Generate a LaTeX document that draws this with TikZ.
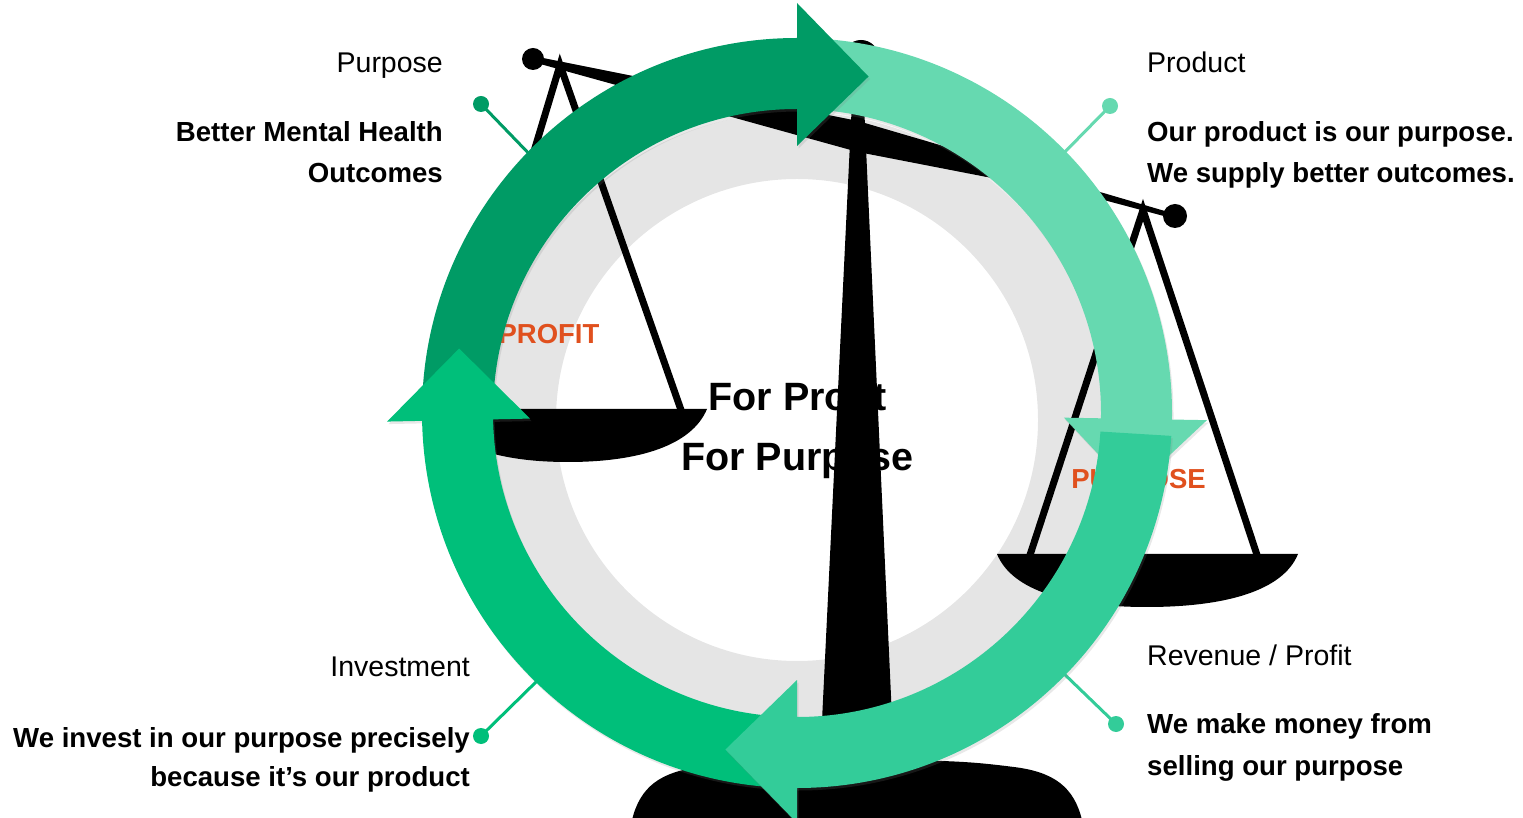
\documentclass[tikz,border=0pt]{standalone}
\usepackage{fontspec}
\setmainfont{Liberation Sans}
\usetikzlibrary{shadows}
\definecolor{cTop}{HTML}{009B65}
\definecolor{cRight}{HTML}{66D9B0}
\definecolor{cBR}{HTML}{33CC99}
\definecolor{cLeft}{HTML}{00BF7A}
\definecolor{ringgray}{HTML}{E5E5E5}
\definecolor{tagorange}{HTML}{E0501E}
\tikzset{
  lbl/.style={font=\fontsize{28.5}{34}\selectfont, inner sep=0pt},
  lblb/.style={font=\fontsize{27.6}{34}\selectfont\bfseries, inner sep=0pt},
  ctext/.style={font=\fontsize{39.5}{46}\selectfont\bfseries, inner sep=0pt, anchor=base},
  tagtext/.style={font=\fontsize{27.5}{32}\selectfont\bfseries, text=tagorange, inner sep=0pt, anchor=base},
  dotc/.style={circle, inner sep=0pt, minimum size=16pt},
  leader/.style={line width=3pt},
  pstring/.style={line width=7pt, line join=miter},
  arrowshadow/.style={drop shadow={opacity=0.18, shadow xshift=1.5pt, shadow yshift=-2.5pt}},
}
\newcommand\ringarrow[3]{%
  \fill[#1, arrowshadow] ([shift={(#2:375)}]ctr) arc[start angle=#2, end angle=#3, radius=375]
    -- ([shift={(#3:410)}]ctr) -- ([shift={(#3-12:344)}]ctr) -- ([shift={(#3:267)}]ctr)
    -- ([shift={(#3:304)}]ctr) arc[start angle=#3, end angle=#2, radius=304] -- cycle;}
\begin{document}
\begin{tikzpicture}[x=1pt, y=1pt]
\useasboundingbox (0,0) rectangle (1523,817);
\coordinate (ctr) at (797,404);
\coordinate (gctr) at (797,397);
% gray ring
\fill[ringgray, even odd rule] (gctr) circle[radius=308] (gctr) circle[radius=241];
% center texts
\node[ctext] (fprofit) at (797.5,406) {For Profit};
\node[ctext] (fpurpose) at (797.5,346) {For Purpose};
\node[tagtext] (tprofit) at (549,473) {PROFIT};
\node[tagtext] (tpurpose) at (1138.5,328) {PURPOSE};
% scale: left pan
\coordinate (lapex) at (560,752);
\coordinate (ls1) at (456,407);
\coordinate (ls2) at (681,407);
\draw[pstring] (ls1) -- (lapex) -- (ls2);
\fill (430,408) -- (707,408) .. controls (692,372) and (640,355) .. (568,355)
  .. controls (496,355) and (446,372) .. (430,408) -- cycle;
% right pan
\coordinate (rapex) at (1143,607);
\coordinate (rs1) at (1030,262);
\coordinate (rs2) at (1257,262);
\draw[pstring] (rs1) -- (rapex) -- (rs2);
\fill (997,263) -- (1298,263) .. controls (1283,226) and (1225,210) .. (1147,210)
  .. controls (1069,210) and (1012,226) .. (997,263) -- cycle;
% beam
\fill (533,761) -- (858,696) -- (1175,603) -- (1175,598) -- (1100,618) -- (858,665) -- (533,755) -- cycle;
\fill (533,758) circle[radius=11];
\fill (1175,601) circle[radius=12];
\fill (861,759) circle[radius=18];
% pole
\fill (854,757) -- (862,757) -- (894,55) -- (820,55) -- cycle;
% base
\fill (632,-3) .. controls (640,30) and (660,45) .. (700,50) .. controls (740,55) and (760,57) .. (857,57)
  .. controls (954,57) and (974,55) .. (1014,50) .. controls (1054,45) and (1074,30) .. (1082,-3) -- cycle;
% leaders
\node[dotc, fill=cTop] (dPurpose) at (481,713) {};
\coordinate (ePurpose) at (537,655);
\draw[leader, cTop] (dPurpose.center) -- (ePurpose);
\node[dotc, fill=cRight] (dProduct) at (1110,711) {};
\coordinate (eProduct) at (1058,658);
\draw[leader, cRight] (dProduct.center) -- (eProduct);
\node[dotc, fill=cBR] (dRevenue) at (1116,93) {};
\coordinate (eRevenue) at (1058,149);
\draw[leader, cBR] (dRevenue.center) -- (eRevenue);
\node[dotc, fill=cLeft] (dInvest) at (481,81) {};
\coordinate (eInvest) at (538,137);
\draw[leader, cLeft] (dInvest.center) -- (eInvest);
% cycle arrows
\ringarrow{cRight}{89.5}{-1}
\ringarrow{cTop}{180}{90}
\ringarrow{cLeft}{270}{181.2}
\ringarrow{cBR}{-3.5}{-90}
% labels
\node[lbl, anchor=base east] (tPurpose) at (443,744) {Purpose};
\node[lblb, anchor=base east] (tPurpose1) at (443,675) {Better Mental Health};
\node[lblb, anchor=base east] (tPurpose2) at (443,634) {Outcomes};
\node[lbl, anchor=base west] (tProduct) at (1147,744) {Product};
\node[lblb, anchor=base west] (tProduct1) at (1147,675) {Our product is our purpose.};
\node[lblb, anchor=base west] (tProduct2) at (1147,634) {We supply better outcomes.};
\node[lbl, anchor=base west] (tRevenue) at (1147,152) {Revenue / Profit};
\node[lblb, anchor=base west] (tRevenue1) at (1147,84) {We make money from};
\node[lblb, anchor=base west] (tRevenue2) at (1147,42) {selling our purpose};
\node[lbl, anchor=base east] (tInvest) at (470,141) {Investment};
\node[lblb, anchor=base east] (tInvest1) at (470,70) {We invest in our purpose precisely};
\node[lblb, anchor=base east] (tInvest2) at (470,31) {because it’s our product};
\end{tikzpicture}
\end{document}
